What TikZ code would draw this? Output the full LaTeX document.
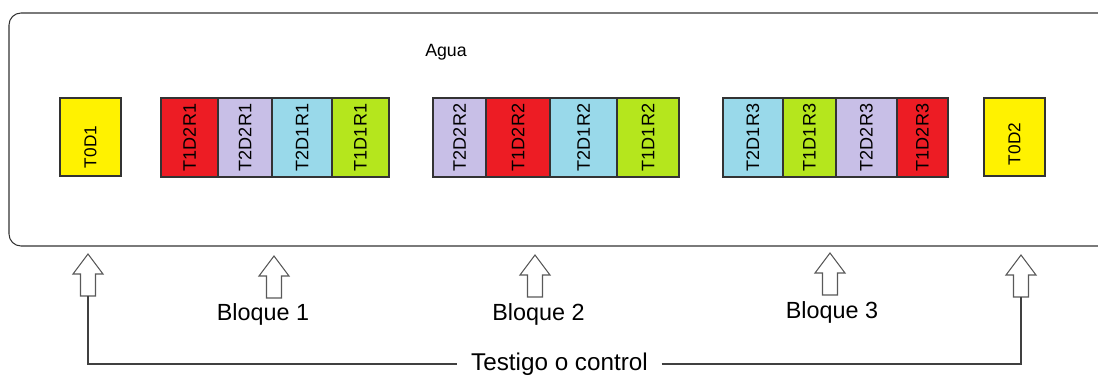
\documentclass[tikz,border=0pt]{standalone}
\usepackage{fontspec}
\setmainfont{Liberation Sans}
\usepackage{xcolor}
\usepackage{tikz}
\usetikzlibrary{calc}
\definecolor{testcolor}{HTML}{FFF200}
\definecolor{redcolor}{HTML}{ED1C24}
\definecolor{lilaccolor}{HTML}{C8BFE7}
\definecolor{skycolor}{HTML}{99D9EA}
\definecolor{limecolor}{HTML}{B5E61D}

\begin{document}
\begin{tikzpicture}[x=0.02cm, y=-0.02cm,
    cell/.style={draw=black!80, line width=0.6pt, rotate=90, minimum width=1.58cm, inner sep=0pt, font=\fontsize{10.3}{12}\selectfont},
    testcell/.style={cell, fill=testcolor, minimum width=1.56cm, minimum height=1.22cm, font=\fontsize{9.8}{12}\selectfont},
    arrowline/.style={draw=black!65, line width=0.6pt, fill=white},
    link/.style={draw=black!75, line width=0.6pt},
    blocklabel/.style={font=\fontsize{13.3}{16}\selectfont},
    blockarrow/.pic={
        \draw[arrowline] (0,0) -- (15,20) -- (7.5,20) -- (7.5,42) -- (-7.5,42) -- (-7.5,20) -- (-15,20) -- cycle;
        \coordinate (-tail) at (0,42);
    }]
    \useasboundingbox (0,0) rectangle (1098,376);

    % Water tank, open on the right
    \draw[black!80, line width=0.6pt, rounded corners=0.24cm] (1098,13) -- (9,13) -- (9,246) -- (1098,246);
    \node[font=\fontsize{10.1}{12}\selectfont] (agua) at (446,52) {Agua};

    % Controls at both ends (label sits a bit low)
    \node[testcell] (t0d1) at (90.5,137) {T0D1\hspace*{0.4cm}};
    \node[testcell] (t0d2) at (1014.5,137) {T0D2\hspace*{0.28cm}};

    % Block 1
    \node[cell, fill=redcolor, minimum height=1.14cm] (t1d2r1) at (189.5,137.5) {T1D2R1};
    \node[cell, fill=lilaccolor, minimum height=1.08cm] (t2d2r1) at (245,137.5) {T2D2R1};
    \node[cell, fill=skycolor, minimum height=1.20cm] (t2d1r1) at (302,137.5) {T2D1R1};
    \node[cell, fill=limecolor, minimum height=1.14cm] (t1d1r1) at (360.5,137.5) {T1D1R1};

    % Block 2
    \node[cell, fill=lilaccolor, minimum height=1.06cm] (t2d2r2) at (459.5,137.5) {T2D2R2};
    \node[cell, fill=redcolor, minimum height=1.28cm] (t1d2r2) at (518,137.5) {T1D2R2};
    \node[cell, fill=skycolor, minimum height=1.34cm] (t2d1r2) at (583.5,137.5) {T2D1R2};
    \node[cell, fill=limecolor, minimum height=1.24cm] (t1d1r2) at (648,137.5) {T1D1R2};

    % Block 3
    \node[cell, fill=skycolor, minimum height=1.20cm] (t2d1r3) at (753,137.5) {T2D1R3};
    \node[cell, fill=limecolor, minimum height=1.06cm] (t1d1r3) at (809.5,137.5) {T1D1R3};
    \node[cell, fill=lilaccolor, minimum height=1.22cm] (t2d2r3) at (866.5,137.5) {T2D2R3};
    \node[cell, fill=redcolor, minimum height=1.02cm] (t1d2r3) at (922.5,137.5) {T1D2R3};

    % Hollow arrows under the tank
    \pic (arrowA) at (88,254) {blockarrow};
    \pic (arrowB) at (274,256) {blockarrow};
    \pic (arrowC) at (535,255) {blockarrow};
    \pic (arrowD) at (830,253) {blockarrow};
    \pic (arrowE) at (1021,255) {blockarrow};

    \node[blocklabel] (bloque1) at (263,314) {Bloque 1};
    \node[blocklabel] (bloque2) at (538.5,314) {Bloque 2};
    \node[blocklabel] (bloque3) at (832,312) {Bloque 3};

    % Control bracket
    \node[font=\fontsize{13.8}{16}\selectfont, inner xsep=0.27cm] (testigo) at (559.5,364) {Testigo o control};
    \draw[link] (arrowA-tail) |- (testigo.west);
    \draw[link] (testigo.east) -| (arrowE-tail);
\end{tikzpicture}
\end{document}
